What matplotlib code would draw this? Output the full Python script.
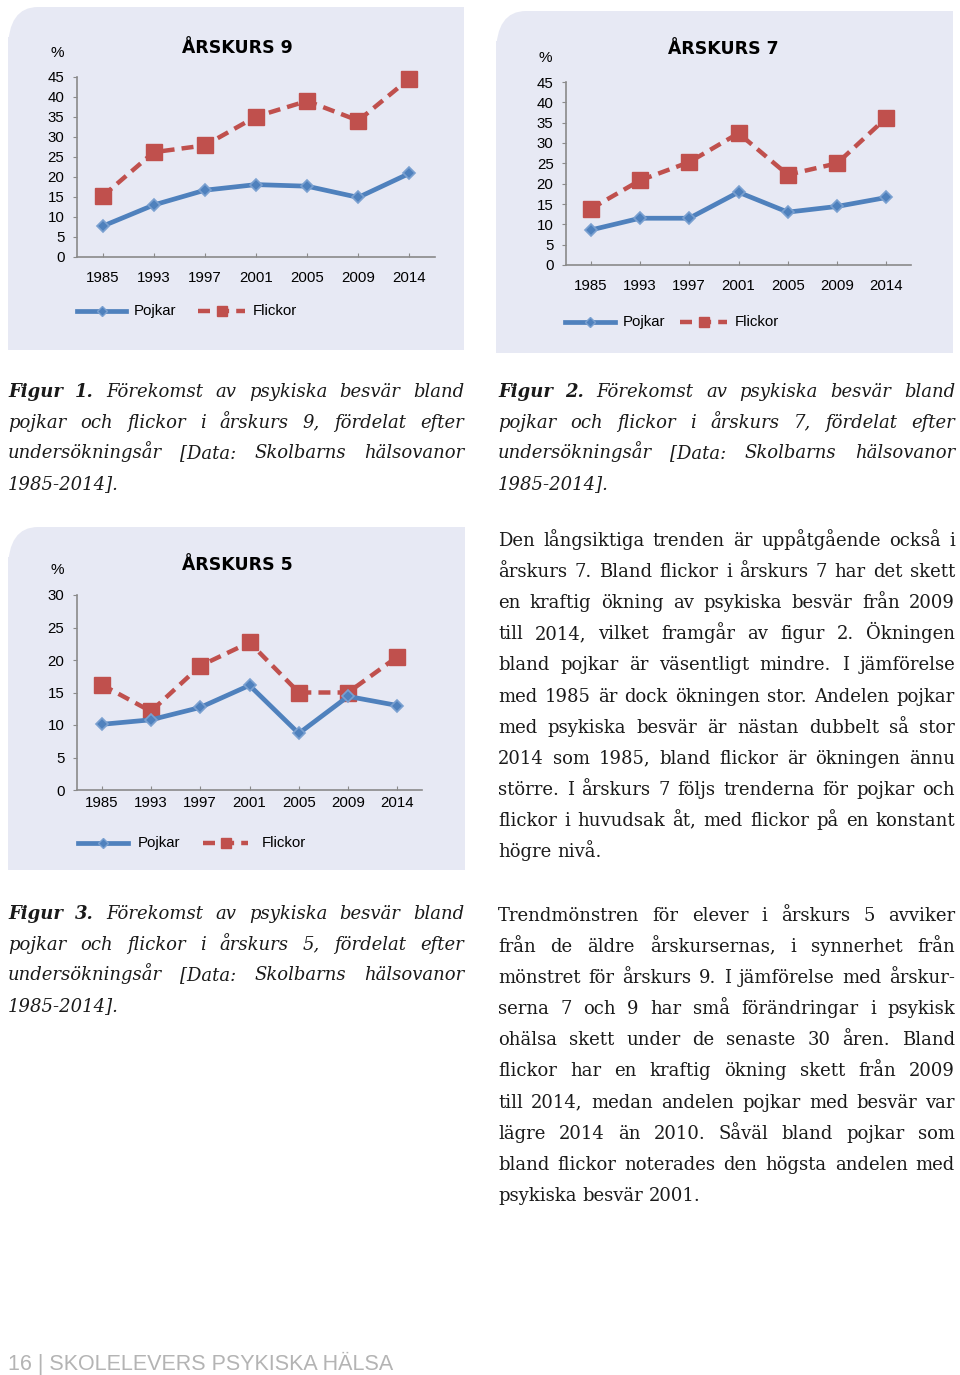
import numpy as np
import matplotlib
matplotlib.use("Agg")
import matplotlib.pyplot as plt
from matplotlib.patches import FancyBboxPatch, Rectangle
from matplotlib.lines import Line2D
from matplotlib.font_manager import FontProperties

W, H = 960, 1375

years = ["1985", "1993", "1997", "2001", "2005", "2009", "2014"]

ak9_pojkar = [7.7, 13.0, 16.7, 18.1, 17.7, 14.9, 20.9]
ak9_flickor = [15.2, 26.2, 27.9, 35.1, 39.0, 34.1, 44.6]

ak7_pojkar = [8.6, 11.5, 11.5, 17.9, 13.0, 14.4, 16.6]
ak7_flickor = [13.8, 20.8, 25.3, 32.4, 22.2, 25.0, 36.2]

ak5_pojkar = [10.1, 10.8, 12.7, 16.1, 8.7, 14.4, 13.0]
ak5_flickor = [16.2, 12.1, 19.1, 22.7, 15.0, 15.0, 20.5]

BLUE = "#4f81bd"
RED = "#c0504d"
PANEL = "#e7e9f4"
SANS = "Liberation Sans"
SERIF = "DejaVu Serif"
DASH = (0, (2.7, 1.6))

fig = plt.figure(figsize=(W / 100, H / 100), dpi=100)
fig.patch.set_facecolor("white")


def fx(x):
    return x / W


def fy(y):
    return 1 - y / H


def panel(x0, y0, x1, y1):
    r = 30
    kw = dict(transform=fig.transFigure, facecolor=PANEL, edgecolor="none", zorder=-5)
    fig.patches.append(FancyBboxPatch((fx(x0), fy(y1)), fx(x1 - x0), (y1 - y0) / H,
                                      boxstyle="round,pad=0,rounding_size=%f" % (r / W), **kw))
    fig.patches.append(Rectangle((fx(x0 + r), fy(y1)), fx(x1 - x0 - r), (y1 - y0) / H, **kw))
    fig.patches.append(Rectangle((fx(x0), fy(y1)), fx(x1 - x0), (y1 - y0 - r) / H, **kw))


def chart(box, ax_box, ymax, step, pojkar, flickor, title, title_xy, pct_xy,
          xlab_pad, leg_y, leg_x):
    panel(*box)
    ax0, ay0, ax1, ay1 = ax_box
    ax = fig.add_axes([fx(ax0), fy(ay1), fx(ax1 - ax0), (ay1 - ay0) / H])
    ax.set_facecolor("none")
    x = np.arange(len(years)) + 0.5
    ax.plot(x, flickor, color=RED, lw=3.2, ls=DASH, marker="s",
            ms=11.5, mfc=RED, mec=RED, zorder=3, clip_on=False)
    ax.plot(x, pojkar, color=BLUE, lw=3.4, marker="D", ms=6.5, mfc=BLUE,
            mec="#7aa0d0", mew=1.2, zorder=4, clip_on=False)
    ax.set_xlim(0, len(years))
    ax.set_ylim(0, ymax)
    ax.set_yticks(np.arange(0, ymax + 0.1, step))
    ax.set_xticks(x)
    ax.set_xticklabels(years)
    for s in ["top", "right"]:
        ax.spines[s].set_visible(False)
    for s in ["left", "bottom"]:
        ax.spines[s].set_color("#8a8a8a")
        ax.spines[s].set_linewidth(1.2)
    ax.tick_params(axis="y", direction="out", length=3, color="#8a8a8a",
                   labelsize=10.8, pad=6)
    ax.tick_params(axis="x", direction="in", length=3, color="#8a8a8a",
                   labelsize=10.8, pad=xlab_pad)
    for lab in ax.get_xticklabels() + ax.get_yticklabels():
        lab.set_fontfamily(SANS)
    fig.text(fx(title_xy[0]), fy(title_xy[1]), title, ha="center", va="center",
             fontsize=12.5, fontweight="heavy", family="DejaVu Sans")
    fig.text(fx(pct_xy[0]), fy(pct_xy[1]), "%", ha="center", va="center",
             fontsize=11, family=SANS)
    # legend
    px0, px1, ptx, fx0, fx1, ftx = leg_x
    fig.lines.append(Line2D([fx(px0), fx(px1)], [fy(leg_y)] * 2, transform=fig.transFigure,
                            color=BLUE, lw=3.4))
    fig.lines.append(Line2D([fx((px0 + px1) / 2)], [fy(leg_y)], transform=fig.transFigure,
                            color=BLUE, marker="D", ms=5, mec="#7aa0d0"))
    fig.text(fx(ptx), fy(leg_y), "Pojkar", ha="left", va="center", fontsize=10.8,
             family=SANS)
    fig.lines.append(Line2D([fx(fx0), fx(fx1)], [fy(leg_y)] * 2, transform=fig.transFigure,
                            color=RED, lw=3.2, ls=DASH))
    fig.lines.append(Line2D([fx((fx0 + fx1) / 2)], [fy(leg_y)], transform=fig.transFigure,
                            color=RED, marker="s", ms=7))
    fig.text(fx(ftx), fy(leg_y), "Flickor", ha="left", va="center", fontsize=10.8,
             family=SANS)


chart((8, 7, 464, 350), (77, 77, 435, 257), 45, 5, ak9_pojkar, ak9_flickor,
      "ÅRSKURS 9", (237, 48), (57, 53), 10, 311, (77, 126, 134, 198, 245, 253))
chart((496, 11, 953, 353), (566, 82, 911, 265), 45, 5, ak7_pojkar, ak7_flickor,
      "ÅRSKURS 7", (723, 49), (545, 58), 10, 322, (565, 615, 623, 680, 727, 735))
chart((8, 527, 465, 870), (77, 595, 422, 790), 30, 5, ak5_pojkar, ak5_flickor,
      "ÅRSKURS 5", (237, 565), (57, 570), 4, 843, (78, 128, 138, 203, 248, 262))

# ---- justified text ----
renderer = fig.canvas.get_renderer()
BODY = 13.0
fp_reg = FontProperties(family=SERIF, size=BODY)
fp_it = FontProperties(family=SERIF, style="italic", size=BODY)
fp_bi = FontProperties(family=SERIF, style="italic", weight="bold", size=BODY)


def width(word, fp):
    t = fig.text(0, 0, word, fontproperties=fp)
    w = t.get_window_extent(renderer).width
    t.remove()
    return w


def draw_line(words, x0, x1, y, justify):
    ws = [width(w, fp) for w, fp in words]
    if justify and len(words) > 1:
        gap = (x1 - x0 - sum(ws)) / (len(words) - 1)
    else:
        gap = width("a a", fp_reg) - 2 * width("a", fp_reg)
    x = x0
    for (w, fp), wd in zip(words, ws):
        fig.text(fx(x), fy(y), w, fontproperties=fp, va="baseline", ha="left",
                 color="#1a1a1a")
        x += wd + gap


def paragraph(lines, x0, x1, y0, dy, fp):
    for i, line in enumerate(lines):
        words = [(w, fp) for w in line.split()]
        draw_line(words, x0, x1, y0 + i * dy, i < len(lines) - 1)


def caption(num, lines, x0, x1, y0, dy):
    for i, line in enumerate(lines):
        words = [(w, fp_it) for w in line.split()]
        if i == 0:
            words = [("Figur", fp_bi), (num + ".", fp_bi)] + words
        draw_line(words, x0, x1, y0 + i * dy, i < len(lines) - 1)


cap_lines = lambda k: [
    "Förekomst av psykiska besvär bland",
    "pojkar och flickor i årskurs %s, fördelat efter" % k,
    "undersökningsår [Data: Skolbarns hälsovanor",
    "1985-2014].",
]

caption("1", cap_lines("9"), 8, 464, 397, 30.7)
caption("2", cap_lines("7"), 498, 955, 397, 30.7)
caption("3", cap_lines("5"), 8, 464, 919, 30.7)

para1 = [
    "Den långsiktiga trenden är uppåtgående också i",
    "årskurs 7. Bland flickor i årskurs 7 har det skett",
    "en kraftig ökning av psykiska besvär från 2009",
    "till 2014, vilket framgår av figur 2. Ökningen",
    "bland pojkar är väsentligt mindre. I jämförelse",
    "med 1985 är dock ökningen stor. Andelen pojkar",
    "med psykiska besvär är nästan dubbelt så stor",
    "2014 som 1985, bland flickor är ökningen ännu",
    "större. I årskurs 7 följs trenderna för pojkar och",
    "flickor i huvudsak åt, med flickor på en konstant",
    "högre nivå.",
]
para2 = [
    "Trendmönstren för elever i årskurs 5 avviker",
    "från de äldre årskursernas, i synnerhet från",
    "mönstret för årskurs 9. I jämförelse med årskur-",
    "serna 7 och 9 har små förändringar i psykisk",
    "ohälsa skett under de senaste 30 åren. Bland",
    "flickor har en kraftig ökning skett från 2009",
    "till 2014, medan andelen pojkar med besvär var",
    "lägre 2014 än 2010. Såväl bland pojkar som",
    "bland flickor noterades den högsta andelen med",
    "psykiska besvär 2001.",
]
paragraph(para1, 498, 955, 546, 31.1, fp_reg)
paragraph(para2, 498, 955, 921, 31.1, fp_reg)

fig.text(fx(8), fy(1370), "16 | SKOLELEVERS PSYKISKA HÄLSA", ha="left",
         va="baseline", fontsize=15.5, family=SANS, color="#b4b4b4")

fig.savefig("out.png", dpi=100, facecolor="white")
